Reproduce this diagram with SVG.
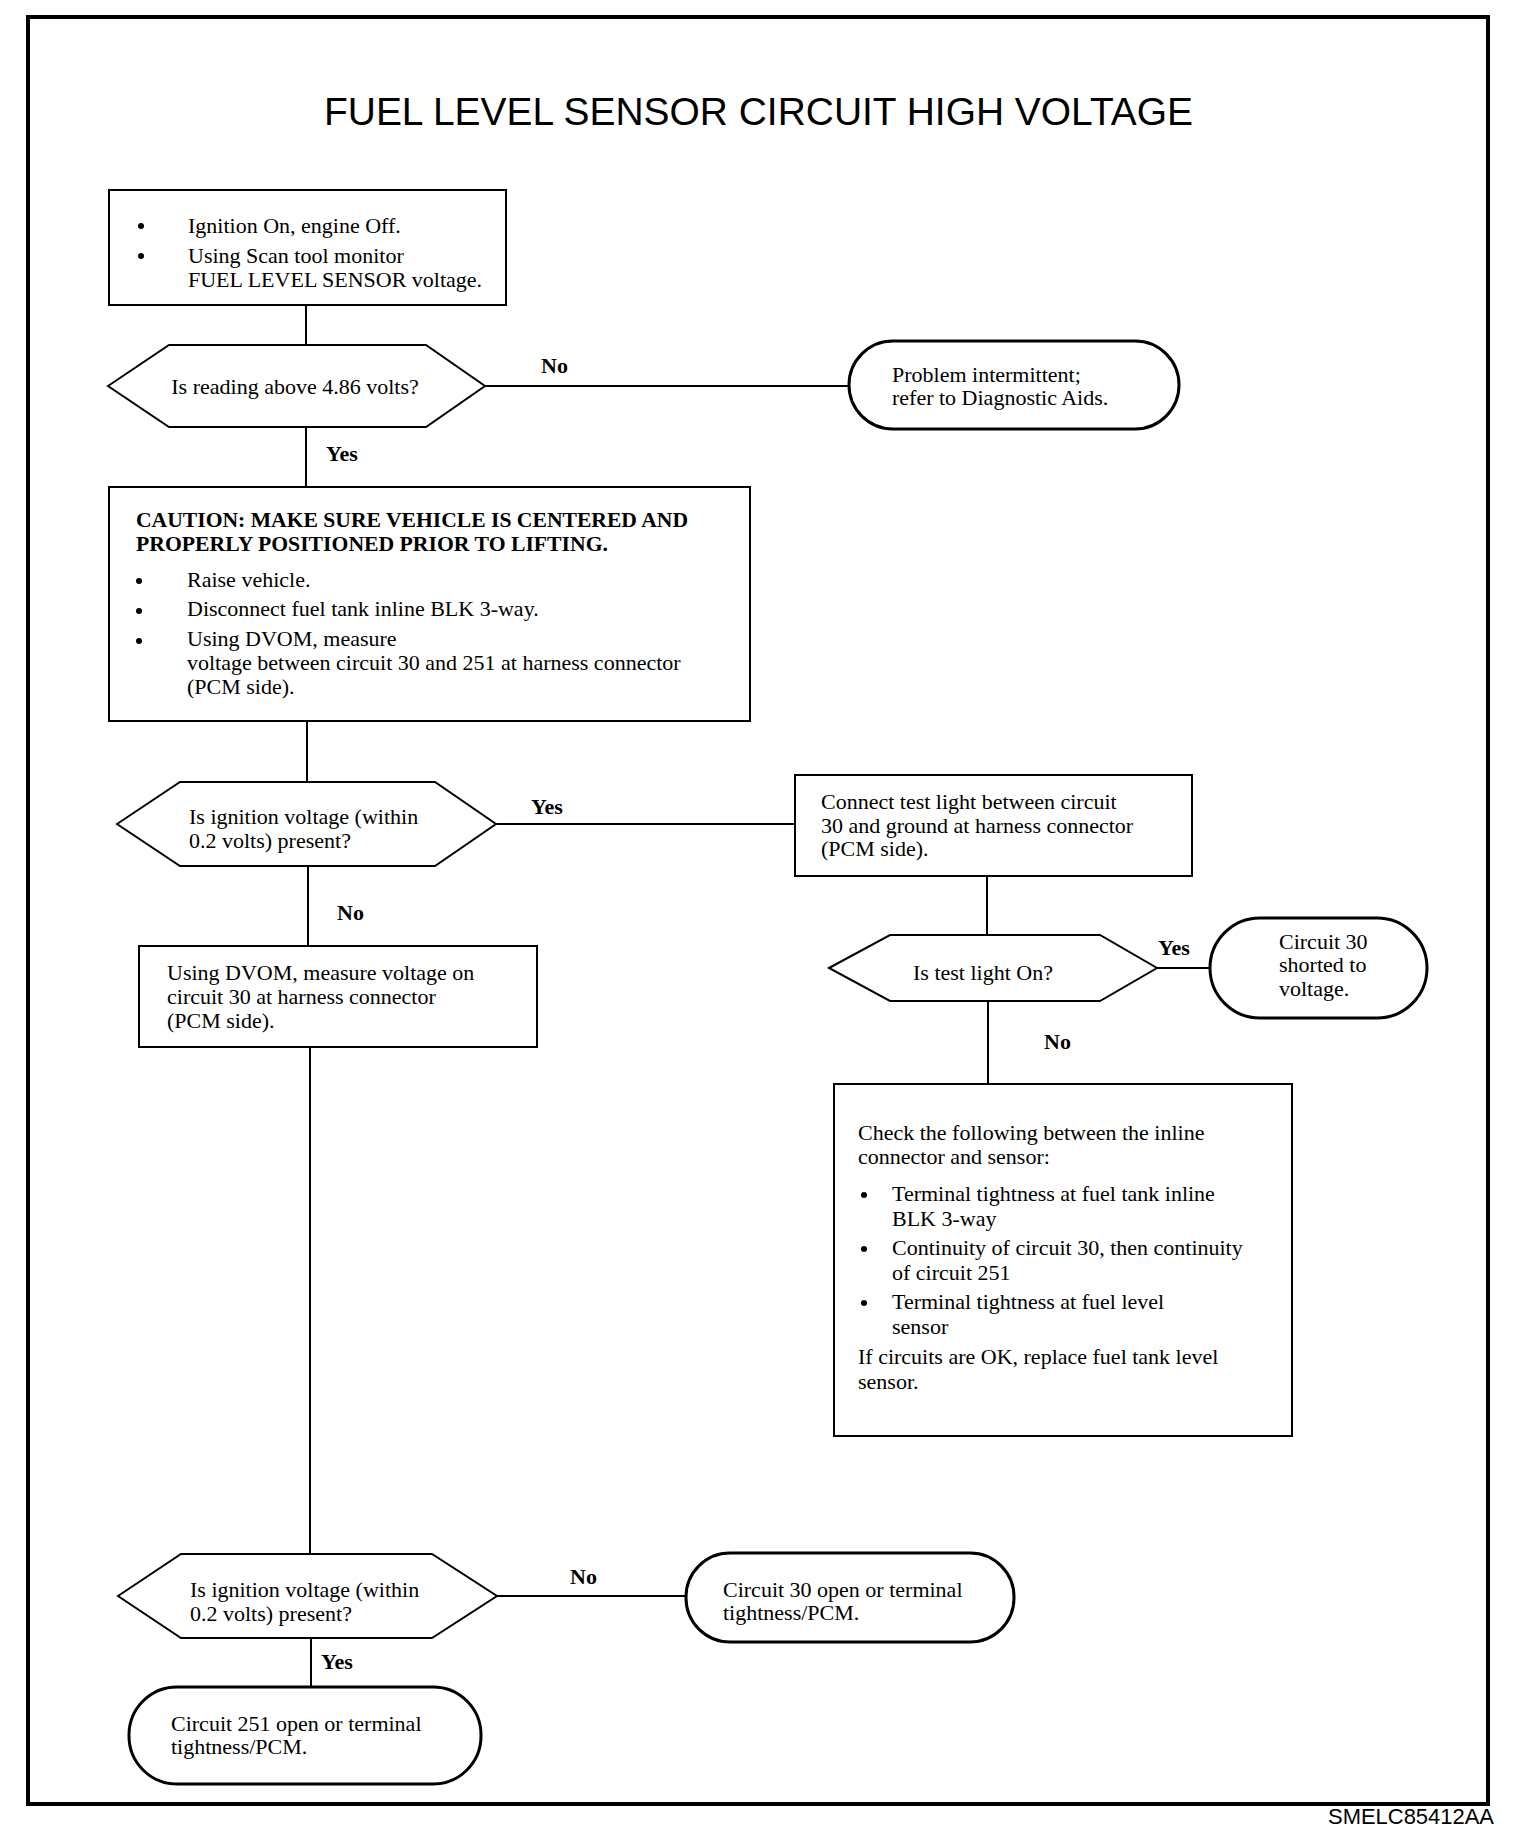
<svg xmlns="http://www.w3.org/2000/svg" width="1536" height="1842" viewBox="0 0 1536 1842">
<style>
.box{fill:#fff;stroke:#000;stroke-width:2}
.term{fill:#fff;stroke:#000;stroke-width:3}
.hex{fill:#fff;stroke:#000;stroke-width:2;stroke-linejoin:miter}
.ln{fill:none;stroke:#000;stroke-width:2}
.t{font-family:"Liberation Serif","Times New Roman",serif;font-size:22px;fill:#000}
.b{font-weight:bold}
.lbl{font-family:"Liberation Serif","Times New Roman",serif;font-size:22px;font-weight:bold;fill:#000}
</style>
<rect x="0" y="0" width="1536" height="1842" fill="#fff"/>
<rect x="28" y="17" width="1460" height="1787" fill="none" stroke="#000" stroke-width="4"/>
<text x="758.5" y="125" text-anchor="middle" font-family="'Liberation Sans',Arial,sans-serif" font-size="38" textLength="869" lengthAdjust="spacingAndGlyphs">FUEL LEVEL SENSOR CIRCUIT HIGH VOLTAGE</text>

<g id="connectors">
<line class="ln" x1="306" y1="305" x2="306" y2="345"/>
<line class="ln" x1="485" y1="386" x2="849" y2="386"/>
<line class="ln" x1="306" y1="427" x2="306" y2="487"/>
<line class="ln" x1="307" y1="721" x2="307" y2="782"/>
<line class="ln" x1="496" y1="824" x2="795" y2="824"/>
<line class="ln" x1="308" y1="866" x2="308" y2="946"/>
<line class="ln" x1="310" y1="1047" x2="310" y2="1554"/>
<line class="ln" x1="987" y1="876" x2="987" y2="935"/>
<line class="ln" x1="1157" y1="968" x2="1210" y2="968"/>
<line class="ln" x1="988" y1="1001" x2="988" y2="1084"/>
<line class="ln" x1="497" y1="1596" x2="686" y2="1596"/>
<line class="ln" x1="311" y1="1638" x2="311" y2="1687"/>
<text class="lbl" x="541" y="373">No</text>
<text class="lbl" x="326" y="461">Yes</text>
<text class="lbl" x="531" y="814">Yes</text>
<text class="lbl" x="337" y="920">No</text>
<text class="lbl" x="1158" y="955">Yes</text>
<text class="lbl" x="1044" y="1049">No</text>
<text class="lbl" x="570" y="1584">No</text>
<text class="lbl" x="321" y="1669">Yes</text>
</g>

<g id="start">
<rect class="box" x="109" y="190" width="397" height="115"/>
<circle cx="141" cy="226" r="3"/>
<circle cx="141" cy="256" r="3"/>
<text class="t" x="188" y="233">Ignition On, engine Off.</text>
<text class="t" x="188" y="263">Using Scan tool monitor</text>
<text class="t" x="188" y="287">FUEL LEVEL SENSOR voltage.</text>
</g>

<g id="q1">
<polygon class="hex" points="108,386 169,345 426,345 485,386 426,427 169,427"/>
<text class="t" x="295" y="394" text-anchor="middle">Is reading above 4.86 volts?</text>
</g>

<g id="intermittent">
<rect class="term" x="849" y="341" width="330" height="88" rx="44" ry="44"/>
<text class="t" x="892" y="382">Problem intermittent;</text>
<text class="t" x="892" y="405">refer to Diagnostic Aids.</text>
</g>

<g id="caution">
<rect class="box" x="109" y="487" width="641" height="234"/>
<text class="t b" x="136" y="527" font-size="21" textLength="552" lengthAdjust="spacingAndGlyphs">CAUTION: MAKE SURE VEHICLE IS CENTERED AND</text>
<text class="t b" x="136" y="551" font-size="21" textLength="472" lengthAdjust="spacingAndGlyphs">PROPERLY POSITIONED PRIOR TO LIFTING.</text>
<circle cx="139" cy="581" r="3"/>
<circle cx="139" cy="611" r="3"/>
<circle cx="139" cy="641" r="3"/>
<text class="t" x="187" y="587">Raise vehicle.</text>
<text class="t" x="187" y="616">Disconnect fuel tank inline BLK 3-way.</text>
<text class="t" x="187" y="646">Using DVOM, measure</text>
<text class="t" x="187" y="670">voltage between circuit 30 and 251 at harness connector</text>
<text class="t" x="187" y="694">(PCM side).</text>
</g>

<g id="q2">
<polygon class="hex" points="117,824 180,782 435,782 496,824 435,866 180,866"/>
<text class="t" x="189" y="824">Is ignition voltage (within</text>
<text class="t" x="189" y="848">0.2 volts) present?</text>
</g>

<g id="testlight">
<rect class="box" x="795" y="775" width="397" height="101"/>
<text class="t" x="821" y="809">Connect test light between circuit</text>
<text class="t" x="821" y="833">30 and ground at harness connector</text>
<text class="t" x="821" y="856">(PCM side).</text>
</g>

<g id="q3">
<polygon class="hex" points="829,968 890,935 1100,935 1157,968 1100,1001 890,1001"/>
<text class="t" x="983" y="980" text-anchor="middle">Is test light On?</text>
</g>

<g id="shorted">
<rect class="term" x="1210" y="918" width="217" height="100" rx="50" ry="50"/>
<text class="t" x="1279" y="949">Circuit 30</text>
<text class="t" x="1279" y="972">shorted to</text>
<text class="t" x="1279" y="996">voltage.</text>
</g>

<g id="check">
<rect class="box" x="834" y="1084" width="458" height="352"/>
<text class="t" x="858" y="1140">Check the following between the inline</text>
<text class="t" x="858" y="1164">connector and sensor:</text>
<circle cx="864" cy="1195" r="3"/>
<circle cx="864" cy="1249" r="3"/>
<circle cx="864" cy="1303" r="3"/>
<text class="t" x="892" y="1201">Terminal tightness at fuel tank inline</text>
<text class="t" x="892" y="1226">BLK 3-way</text>
<text class="t" x="892" y="1255">Continuity of circuit 30, then continuity</text>
<text class="t" x="892" y="1280">of circuit 251</text>
<text class="t" x="892" y="1309">Terminal tightness at fuel level</text>
<text class="t" x="892" y="1334">sensor</text>
<text class="t" x="858" y="1364">If circuits are OK, replace fuel tank level</text>
<text class="t" x="858" y="1389">sensor.</text>
</g>

<g id="measure30">
<rect class="box" x="139" y="946" width="398" height="101"/>
<text class="t" x="167" y="980">Using DVOM, measure voltage on</text>
<text class="t" x="167" y="1004">circuit 30 at harness connector</text>
<text class="t" x="167" y="1028">(PCM side).</text>
</g>

<g id="q4">
<polygon class="hex" points="118,1596 181,1554 432,1554 497,1596 432,1638 181,1638"/>
<text class="t" x="190" y="1597">Is ignition voltage (within</text>
<text class="t" x="190" y="1621">0.2 volts) present?</text>
</g>

<g id="open30">
<rect class="term" x="686" y="1553" width="328" height="89" rx="44" ry="44"/>
<text class="t" x="723" y="1597">Circuit 30 open or terminal</text>
<text class="t" x="723" y="1620">tightness/PCM.</text>
</g>

<g id="open251">
<rect class="term" x="129" y="1687" width="352" height="97" rx="48" ry="48"/>
<text class="t" x="171" y="1731">Circuit 251 open or terminal</text>
<text class="t" x="171" y="1754">tightness/PCM.</text>
</g>

<text x="1494" y="1824" text-anchor="end" font-family="'Liberation Sans',Arial,sans-serif" font-size="22" textLength="166" lengthAdjust="spacingAndGlyphs">SMELC85412AA</text>
</svg>
